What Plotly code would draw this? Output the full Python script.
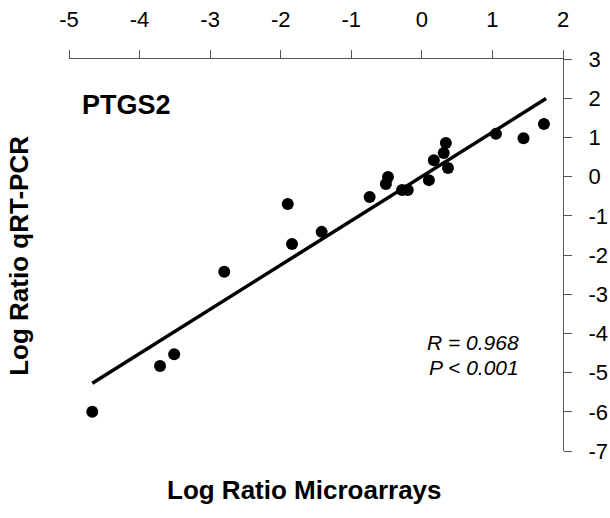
import plotly.graph_objects as go

# Data
micro_x = [-4.67, -3.71, -3.51, -2.80, -1.90, -1.84, -1.42, -0.74, -0.51, -0.48,
           -0.28, -0.20, 0.10, 0.17, 0.31, 0.34, 0.37, 1.05, 1.44, 1.73]
qpcr_y = [-6.00, -4.83, -4.53, -2.43, -0.70, -1.72, -1.41, -0.52, -0.19, -0.01,
          -0.34, -0.34, -0.09, 0.42, 0.60, 0.86, 0.22, 1.09, 0.98, 1.34]
fit_x = [-4.67, 1.76]
fit_y = [-5.27, 1.99]
x_ticks = [-5, -4, -3, -2, -1, 0, 1, 2]
y_ticks = [3, 2, 1, 0, -1, -2, -3, -4, -5, -6, -7]

FONT = "Liberation Sans, Arial, sans-serif"

fig = go.Figure()
fig.add_trace(go.Scatter(x=fit_x, y=fit_y, mode="lines",
                         line=dict(color="black", width=3.5), showlegend=False))
fig.add_trace(go.Scatter(x=micro_x, y=qpcr_y, mode="markers",
                         marker=dict(color="black", size=12), showlegend=False))

fig.update_layout(
    width=610, height=518,
    margin=dict(l=69, r=47, t=59, b=67),
    paper_bgcolor="white", plot_bgcolor="white",
    font=dict(family=FONT, color="black", size=22),
    xaxis=dict(range=[-5, 2], side="top", tickvals=x_ticks,
               ticktext=[str(v) for v in x_ticks], automargin=False,
               showgrid=False, zeroline=False, showline=True,
               linecolor="#555", linewidth=1.3, ticks="outside", ticklen=8,
               tickcolor="#555", tickwidth=1.3, ticklabelstandoff=14,
               tickfont=dict(size=22, family=FONT, color="black")),
    yaxis=dict(range=[-7, 3], side="right", tickvals=y_ticks,
               ticktext=[str(v) for v in y_ticks], automargin=False,
               showgrid=False, zeroline=False, showline=True,
               linecolor="#555", linewidth=1.3, ticks="outside", ticklen=8,
               tickcolor="#555", tickwidth=1.3, ticklabelstandoff=12,
               tickfont=dict(size=22, family=FONT, color="black")),
    annotations=[
        dict(text="<b>Log Ratio Microarrays</b>", xref="paper", yref="paper",
             x=0.476, y=-0.0995, xanchor="center", yanchor="middle",
             showarrow=False, font=dict(size=26, family=FONT)),
        dict(text="<b>Log Ratio qRT-PCR</b>", xref="paper", yref="paper",
             x=-0.1, y=0.497, xanchor="center", yanchor="middle",
             textangle=-90, showarrow=False, font=dict(size=26, family=FONT)),
        dict(text="<b>PTGS2</b>", xref="paper", yref="paper",
             x=0.022, y=0.883, xanchor="left", yanchor="middle",
             showarrow=False, font=dict(size=27, family=FONT)),
        dict(text="<i>R = 0.968</i>", xref="paper", yref="paper",
             x=0.915, y=0.278, xanchor="right", yanchor="middle",
             showarrow=False, font=dict(size=21, family=FONT)),
        dict(text="<i>P < 0.001</i>", xref="paper", yref="paper",
             x=0.915, y=0.212, xanchor="right", yanchor="middle",
             showarrow=False, font=dict(size=21, family=FONT)),
    ],
)

fig.write_html("out.html")
